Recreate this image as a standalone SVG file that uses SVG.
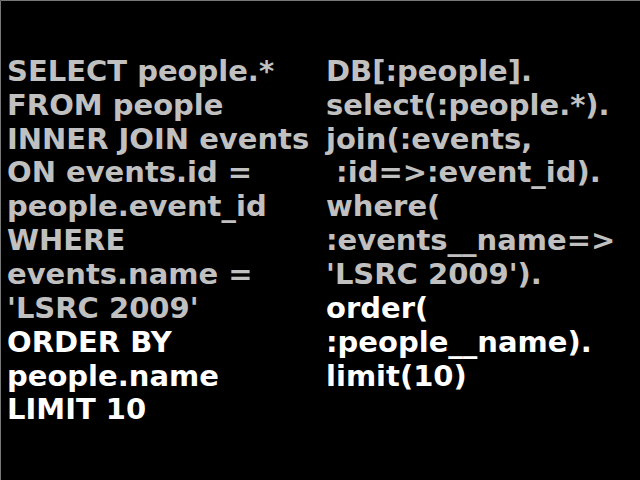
<svg xmlns="http://www.w3.org/2000/svg" width="640" height="480" viewBox="0 0 640 480">
<style>
text{font-family:"DejaVu Sans",Verdana,sans-serif;font-weight:bold;font-size:29px}
.g{fill:#c0c0c0}
.w{fill:#ffffff}
</style>
<rect x="0" y="0" width="640" height="480" fill="#000"/>
<path d="M0.5,480V0.5H640" fill="none" stroke="#777" stroke-width="1"/>
<g id="sql">
<text class="g" x="7" y="81">SELECT people.*</text>
<text class="g" x="7" y="115">FROM people</text>
<text class="g" x="7" y="149">INNER JOIN events</text>
<text class="g" x="7" y="182">ON events.id =</text>
<text class="g" x="7" y="216">people.event_id</text>
<text class="g" x="7" y="250">WHERE</text>
<text class="g" x="7" y="284">events.name =</text>
<text class="g" x="7" y="318">'LSRC 2009'</text>
<text class="w" x="7" y="352">ORDER BY</text>
<text class="w" x="7" y="386">people.name</text>
<text class="w" x="7" y="419">LIMIT 10</text>
</g>
<g id="sequel">
<text class="g" x="326" y="81">DB[:people].</text>
<text class="g" x="326" y="115">select(:people.*).</text>
<text class="g" x="326" y="149">join(:events,</text>
<text class="g" x="326" y="182" xml:space="preserve"> :id=&gt;:event_id).</text>
<text class="g" x="326" y="216">where(</text>
<text class="g" x="326" y="250">:events__name=&gt;</text>
<text class="g" x="326" y="284">'LSRC 2009').</text>
<text class="w" x="326" y="318">order(</text>
<text class="w" x="326" y="352">:people__name).</text>
<text class="w" x="326" y="386">limit(10)</text>
</g>
</svg>
